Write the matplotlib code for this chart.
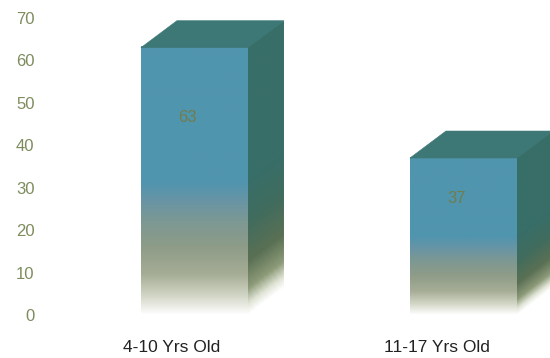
import numpy as np
import matplotlib.pyplot as plt
from matplotlib.colors import LinearSegmentedColormap
from matplotlib.patches import Polygon

categories = ["4-10 Yrs Old", "11-17 Yrs Old"]
values = [63, 37]
yticks = [0, 10, 20, 30, 40, 50, 60, 70]

plt.rcParams['font.family'] = ['Liberation Sans', 'DejaVu Sans']

fig = plt.figure(figsize=(5.5, 3.58), dpi=100)
# axes: y=0 at 315px, y=70 at 18px; x from 40px to 550px
ax = fig.add_axes([40 / 550, (358 - 315) / 358, 510 / 550, 297 / 358])
ax.set_ylim(0, 70)
ax.set_xlim(-0.574, 1.3216)
for s in ax.spines.values():
    s.set_visible(False)
ax.set_xticks([])
ax.set_yticks(yticks)
ax.tick_params(axis='y', length=0, pad=4, labelsize=12, labelcolor='#7d8c5e')

width = 0.398
dx = 36 / 269
dy = 27 / (297 / 70)

front_cmap = LinearSegmentedColormap.from_list("front", [
    (0.0, '#ffffff'), (0.07, '#d2d6c6'), (0.15, '#a6ad96'), (0.25, '#8e9c88'),
    (0.35, '#7c9894'), (0.43, '#6694a6'), (0.5, '#5095ae'), (1.0, '#5095ae')])
side_cmap = LinearSegmentedColormap.from_list("side", [
    (0.0, '#ffffff'), (0.04, '#e0e4d6'), (0.1, '#8c9a78'), (0.2, '#5a7054'),
    (0.35, '#406c5e'), (0.5, '#386e68'), (1.0, '#386e68')])
top_color = '#3e7876'

for i, v in enumerate(values):
    x0, x1 = i - width / 2, i + width / 2
    eps = 0.004

    # front face (slightly larger so the other faces cover the seams)
    front = Polygon([(x0, 0), (x1 + eps, 0), (x1 + eps, v + 0.3), (x0, v + 0.3)],
                    closed=True, facecolor='none', edgecolor='none')
    ax.add_patch(front)
    grad = np.linspace(0, 1, 256).reshape(-1, 1)
    im = ax.imshow(grad, cmap=front_cmap, origin='lower', aspect='auto',
                   extent=[x0, x1 + eps, 0, v + 0.3], interpolation='bilinear',
                   zorder=2, vmin=0, vmax=v / (v + 0.3))
    im.set_clip_path(front)

    # side face, gradient measured from the slanted bottom edge
    side = Polygon([(x1, 0), (x1 + dx, dy), (x1 + dx, v + dy), (x1 - 0.01, v + 0.5)],
                   closed=True, facecolor='none', edgecolor='none')
    ax.add_patch(side)
    yy = np.linspace(0, v + dy, 256).reshape(-1, 1)
    xx = np.linspace(0, 1, 32).reshape(1, -1)
    t = (yy - xx * dy) / v
    im2 = ax.imshow(np.clip(t, 0, 1), cmap=side_cmap, origin='lower',
                    aspect='auto', extent=[x1, x1 + dx, 0, v + dy],
                    interpolation='bilinear', zorder=2.5, vmin=0, vmax=1)
    im2.set_clip_path(side)

    # top face
    top = Polygon([(x0, v), (x1, v), (x1 + dx, v + dy), (x0 + dx, v + dy)],
                  closed=True, facecolor=top_color, edgecolor=top_color,
                  linewidth=0.4, zorder=3)
    ax.add_patch(top)

    ax.text(i - 0.026, v * 0.74, str(v), ha='center', va='center',
            fontsize=12, color='#6f7d4e', zorder=4)

label_offsets = [-0.085, -0.1]
for i, name in enumerate(categories):
    ax.text(i + label_offsets[i], -32 * 70 / 297, name, ha='center',
            va='center', fontsize=12.5, color='#222222', clip_on=False)

fig.savefig("out.png", dpi=100)
